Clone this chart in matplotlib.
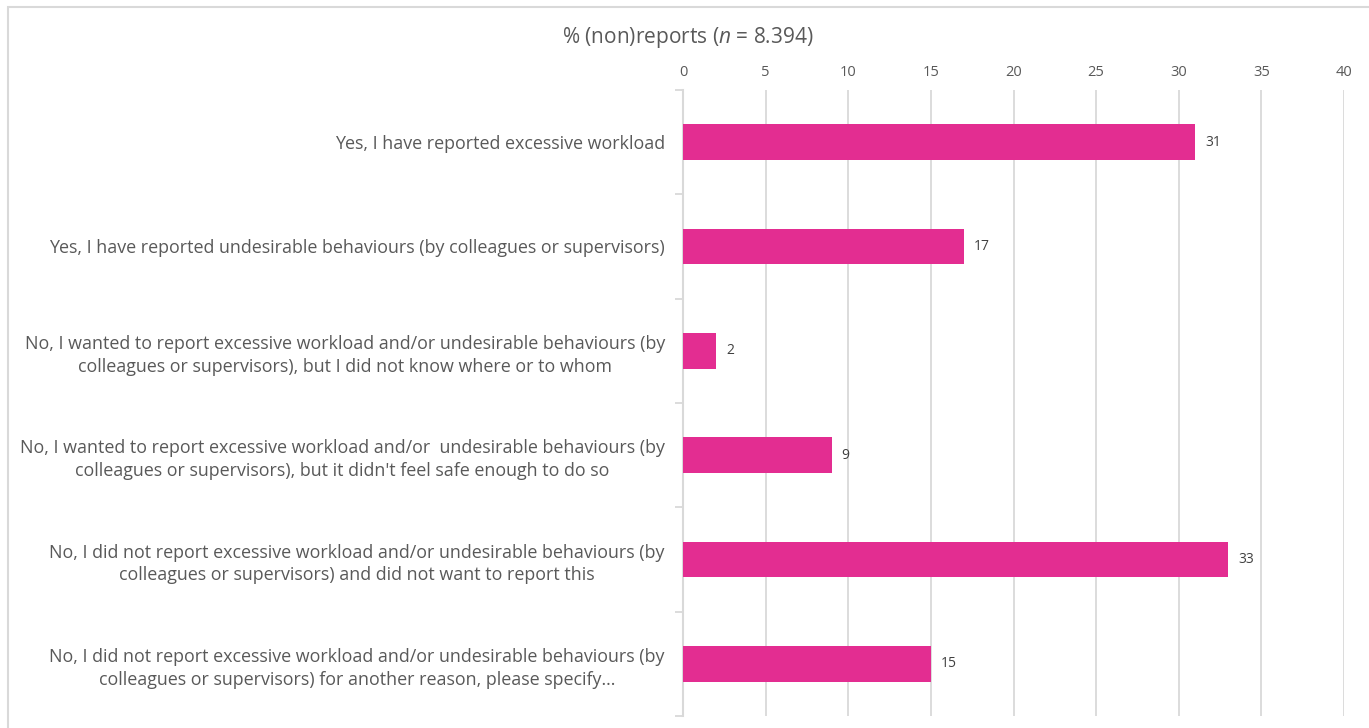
import matplotlib.pyplot as plt
from matplotlib.patches import Rectangle
import numpy as np

plt.rcParams['font.family'] = ['Open Sans', 'DejaVu Sans']
plt.rcParams['mathtext.fontset'] = 'custom'
plt.rcParams['mathtext.rm'] = 'Open Sans'
plt.rcParams['mathtext.it'] = 'Open Sans:italic'

# Survey answers, top to bottom
categories = [
    "Yes, I have reported excessive workload",
    "Yes, I have reported undesirable behaviours (by colleagues or supervisors)",
    "No, I wanted to report excessive workload and/or undesirable behaviours (by\ncolleagues or supervisors), but I did not know where or to whom",
    "No, I wanted to report excessive workload and/or  undesirable behaviours (by\ncolleagues or supervisors), but it didn't feel safe enough to do so",
    "No, I did not report excessive workload and/or undesirable behaviours (by\ncolleagues or supervisors) and did not want to report this",
    "No, I did not report excessive workload and/or undesirable behaviours (by\ncolleagues or supervisors) for another reason, please specify...",
]
percentages = [31, 17, 2, 9, 33, 15]
x_ticks = [0, 5, 10, 15, 20, 25, 30, 35, 40]

bar_color = '#E32D91'
grid_color = '#D9D9D9'
text_color = '#595959'

W, H = 1369, 728
fig = plt.figure(figsize=(W / 100, H / 100), dpi=100)

# chart area border
fig.patches.append(Rectangle((8 / W, -0.05), 1.2, 1 - 7 / H + 0.05,
                             transform=fig.transFigure, fill=False,
                             edgecolor=grid_color, linewidth=1.5))

ax = fig.add_axes([683 / W, 1 - 716 / H, (1344 - 683) / W, (716 - 90) / H])

pos = np.arange(len(categories)) + 0.5
ax.barh(pos, percentages, height=0.345, color=bar_color, zorder=3)
for y, v in zip(pos, percentages):
    ax.text(v + 0.6, y, str(v), va='center', ha='left', fontsize=10, color='#404040')

ax.set_xlim(0, 40)
ax.set_ylim(len(categories), 0)

ax.xaxis.tick_top()
ax.set_xticks(x_ticks)
ax.set_xticklabels([str(t) for t in x_ticks], fontsize=10.5, color=text_color)
ax.tick_params(axis='x', length=0, pad=7)
ax.grid(axis='x', color=grid_color, linewidth=1.3, zorder=0)

ax.set_yticks(np.arange(len(categories) + 1))
ax.set_yticklabels([])
ax.tick_params(axis='y', which='major', length=6, color=grid_color, width=1.3)
ax.set_yticks(pos, minor=True)
ax.set_yticklabels(categories, minor=True, fontsize=12.9, color=text_color,
                   multialignment='center', linespacing=1.35)
ax.tick_params(axis='y', which='minor', length=0, pad=13)

for s in ['top', 'right', 'bottom']:
    ax.spines[s].set_visible(False)
ax.spines['left'].set_color(grid_color)
ax.spines['left'].set_linewidth(1.5)

fig.text(688 / W, 1 - 37 / H, '% (non)reports ($n$ = 8.394)', ha='center', va='center',
         fontsize=15, color=text_color)

fig.savefig('out.png', dpi=100)
